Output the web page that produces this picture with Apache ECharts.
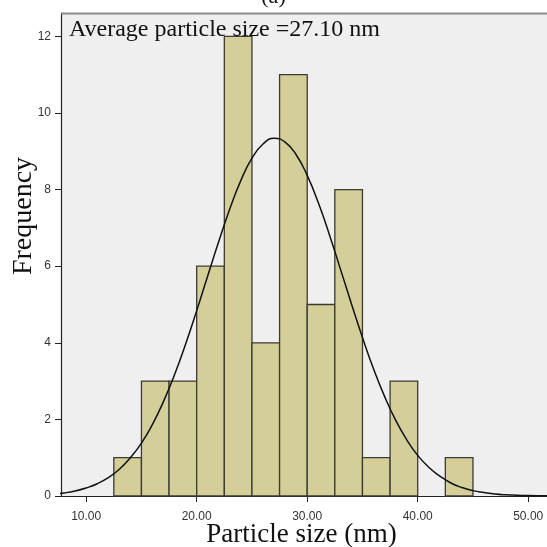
<!DOCTYPE html>
<html>
<head>
<meta charset="utf-8">
<script src="https://cdn.jsdelivr.net/npm/echarts@6/dist/echarts.min.js"></script>
<style>
html,body{margin:0;padding:0;background:#fff;}
#c{width:547px;height:547px;}
</style>
</head>
<body>
<div id="c"></div>
<script>
// Histogram bins (nm) and frequencies
var binStarts = [12.5, 15, 17.5, 20, 22.5, 25, 27.5, 30, 32.5, 35, 37.5, 40, 42.5];
var binWidth = 2.5;
var counts = [1, 3, 3, 6, 12, 4, 11, 5, 8, 1, 3, 0, 1];
// Fitted normal curve
var curveX = [7, 8, 9, 10, 11, 12, 13, 14, 15, 16, 17, 18, 19, 20, 21, 22, 23, 24, 25, 26, 27, 28, 29, 30, 31, 32, 33, 34, 35, 36, 37, 38, 39, 40, 41, 42, 43, 44, 45, 46, 47, 48, 49, 50, 51, 52];
var curveY = [0.05, 0.08, 0.13, 0.21, 0.32, 0.48, 0.70, 1.00, 1.38, 1.87, 2.47, 3.17, 3.97, 4.84, 5.75, 6.65, 7.50, 8.24, 8.82, 9.19, 9.34, 9.24, 8.91, 8.37, 7.66, 6.83, 5.93, 5.02, 4.14, 3.32, 2.60, 1.98, 1.47, 1.06, 0.75, 0.52, 0.34, 0.22, 0.14, 0.09, 0.05, 0.03, 0.02, 0.01, 0.005, 0.003];
var xTicks = [10, 20, 30, 40, 50];
var xTickLabels = ['10.00', '20.00', '30.00', '40.00', '50.00'];
var yTicks = [0, 2, 4, 6, 8, 10, 12];
var avgText = 'Average particle size =27.10 nm';
var xTitle = 'Particle size (nm)';
var yTitle = 'Frequency';

var barData = binStarts.map(function (s, i) { return [s, s + binWidth, counts[i]]; });
var curveData = curveX.map(function (x, i) { return [x, curveY[i]]; });

var chart = echarts.init(document.getElementById('c'), null, {renderer: 'canvas'});
chart.setOption({
  animation: false,
  backgroundColor: '#ffffff',
  title: {
    text: '(a)', left: 'center', top: -19,
    textStyle: {fontFamily: 'Liberation Serif', fontSize: 22, fontWeight: 'normal', color: '#111'}
  },
  grid: {left: 61, right: 0, top: 13, bottom: 51, outerBoundsMode: 'none', containLabel: false,
    show: true, backgroundColor: '#efefef', borderColor: '#8a8a8a', borderWidth: 0},
  xAxis: {
    type: 'value', min: 7.72, max: 51.7,
    axisLine: {show: true, onZero: false, lineStyle: {color: '#222', width: 1.2}},
    axisTick: {show: true, inside: false, length: 6, customValues: xTicks, lineStyle: {color: '#222'}},
    axisLabel: {customValues: xTicks, formatter: function (v) { return xTickLabels[xTicks.indexOf(v)]; },
      fontFamily: 'Liberation Sans', fontSize: 12, color: '#333', margin: 15},
    splitLine: {show: false}
  },
  yAxis: {
    type: 'value', min: 0, max: 12.61,
    axisLine: {show: true, lineStyle: {color: '#222', width: 1.2}},
    axisTick: {show: true, inside: false, length: 6, customValues: yTicks, lineStyle: {color: '#222'}},
    axisLabel: {customValues: yTicks, fontFamily: 'Liberation Sans', fontSize: 12, color: '#333', margin: 10},
    splitLine: {show: false}
  },
  graphic: [
    {type: 'line', shape: {x1: 61, y1: 13.5, x2: 547, y2: 13.5}, style: {stroke: '#8a8a8a', lineWidth: 2}, z: 10},
    {type: 'text', x: 69, y: 18, style: {text: avgText, font: '24px "Liberation Serif"', fill: '#111'}, z: 10},
    {type: 'text', x: 301.5, y: 521, style: {text: xTitle, font: '27px "Liberation Serif"', fill: '#111', align: 'center', textAlign: 'center'}, z: 10},
    {type: 'text', x: 10, y: 216, rotation: Math.PI / 2, style: {text: yTitle, font: '28px "Liberation Serif"', fill: '#111', align: 'center', textAlign: 'center'}, z: 10}
  ],
  series: [
    {
      type: 'custom',
      data: barData,
      encode: {x: [0, 1], y: 2},
      renderItem: function (params, api) {
        var p0 = api.coord([api.value(0), api.value(2)]);
        var p1 = api.coord([api.value(1), 0]);
        if (api.value(2) <= 0) return null;
        return {
          type: 'rect',
          shape: {x: p0[0], y: p0[1], width: p1[0] - p0[0], height: p1[1] - p0[1]},
          style: {fill: '#d4cf98', stroke: '#3b3a33', lineWidth: 1.3}
        };
      },
      z: 2
    },
    {
      type: 'line', data: curveData, smooth: true, showSymbol: false, symbol: 'none',
      lineStyle: {color: '#111', width: 1.5}, clip: true, z: 3
    }
  ]
});
</script>
</body>
</html>
